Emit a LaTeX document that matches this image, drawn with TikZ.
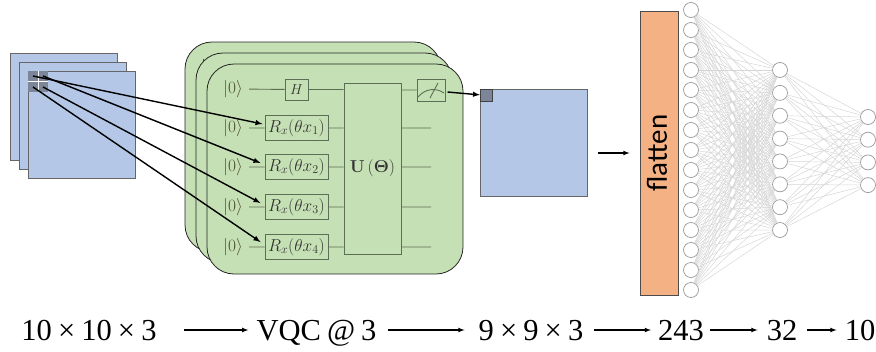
\documentclass[tikz,border=0pt]{standalone}
\usepackage{amssymb,amsmath,latexsym}
\usepackage[no-math]{fontspec}
\usepackage{tikz}
\usetikzlibrary{arrows}
\newfontfamily\captionfont[WordSpace=0.8]{Liberation Serif}
\newfontfamily\flattenfont{Carlito}
\definecolor{imgblue}{HTML}{B4C7E7}
\definecolor{qcgreen}{HTML}{C5E0B4}
\definecolor{wirecol}{HTML}{5E6E56}
\definecolor{kettext}{HTML}{4F4F30}
\definecolor{patchcol}{HTML}{7C8698}
\definecolor{flatcol}{HTML}{F4B183}
\tikzset{
  img/.style={draw=black!60, line width=1pt, fill=imgblue, inner sep=0, minimum size=107pt},
  card/.style={draw=black!85, line width=0.8pt, fill=qcgreen, rounded corners=27pt, inner sep=0, minimum width=256pt, minimum height=210pt},
  ket/.style={inner sep=0, minimum width=32pt, text=kettext, font=\LARGE},
  gate/.style={draw=wirecol, line width=1pt, inner sep=0, text=black!80, font=\LARGE},
  rxgate/.style={gate, minimum width=63pt, minimum height=25pt},
  wire/.style={draw=wirecol, line width=0.9pt},
  cell/.style={fill=patchcol, inner sep=0, minimum size=10.5pt},
  feed/.style={-latex, line width=1.4pt},
  neuron/.style={circle, draw=black!40, line width=0.7pt, fill=white, inner sep=0, minimum size=15pt},
  synapse/.style={draw=black!16, line width=0.5pt},
  caption/.style={inner sep=0, text height=22pt, text depth=2pt, font={\captionfont\fontsize{30.5}{33}\selectfont}}
}
\begin{document}
\begin{tikzpicture}[x=1pt, y=-1pt]
  \useasboundingbox (0,0) rectangle (876,351);

  % input channels
  \node[img] (img-3) at (64,107) {};
  \node[img] (img-2) at (73,116) {};
  \node[img] (img-1) at (82,125) {};
  \node[cell] (c-1) at (33,76) {};
  \node[cell] (c-2) at (43,76) {};
  \node[cell] (c-3) at (33,87) {};
  \node[cell] (c-4) at (43,87) {};
  \draw[white, line width=0.8pt] (c-1.north east) -- (c-3.south east);
  \draw[white, line width=0.8pt] (c-1.south west) -- (c-2.south east);

  % circuit cards
  \node[card] (card-3) at (313,147) {};
  \draw[draw=kettext, line width=0.8pt] (203,59) -- (203,67);
  \node[card] (card-2) at (324,158) {};
  \node[card] (card-1) at (335,169) {};

  \node[ket] (k-0) at (233,89) {$|0\rangle$};
  \node[ket] (k-1) at (233,128) {$|0\rangle$};
  \node[ket] (k-2) at (233,167) {$|0\rangle$};
  \node[ket] (k-3) at (233,207) {$|0\rangle$};
  \node[ket] (k-4) at (233,247) {$|0\rangle$};
  \node[gate, font=\Large, minimum width=23pt, minimum height=21pt] (h) at (296.5,89.5) {$H$};
  \node[rxgate] (rx-1) at (296.5,128) {$R_x(\theta x_1)$};
  \node[rxgate] (rx-2) at (296.5,167) {$R_x(\theta x_2)$};
  \node[rxgate] (rx-3) at (296.5,207) {$R_x(\theta x_3)$};
  \node[rxgate] (rx-4) at (296.5,247) {$R_x(\theta x_4)$};
  \node[gate, minimum width=57pt, minimum height=171pt] (u) at (372.5,168.5) {$\mathbf{U}\left(\boldsymbol{\Theta}\right)$};
  \node[gate, minimum width=28pt, minimum height=22pt] (meter) at (431,90) {};
  \draw[wire] (418,97) .. controls (425,89) and (435,87) .. (444,93);
  \draw[wire] (430,98) -- (438,83);

  \coordinate (out-1) at (431,128);
  \coordinate (out-2) at (431,167);
  \coordinate (out-3) at (431,207);
  \coordinate (out-4) at (431,247);
  \path[wire]
  (k-0) -- (h)
  (h) -- (h -| u.west)
  (meter.west) -- (meter.west -| u.east)
  (k-1) -- (rx-1) (rx-1) -- (rx-1 -| u.west) (out-1 -| u.east) -- (out-1)
  (k-2) -- (rx-2) (rx-2) -- (rx-2 -| u.west) (out-2 -| u.east) -- (out-2)
  (k-3) -- (rx-3) (rx-3) -- (rx-3 -| u.west) (out-3 -| u.east) -- (out-3)
  (k-4) -- (rx-4) (rx-4) -- (rx-4 -| u.west) (out-4 -| u.east) -- (out-4);

  % feature map and flatten
  \node[img] (map) at (534,142.5) {};
  \node[cell, draw=black!75, line width=0.8pt, anchor=north west, minimum size=12pt] (pix) at (map.north west) {};
  \node[draw=black!70, line width=1pt, fill=flatcol, inner sep=0, minimum width=38pt, minimum height=284pt] (flat) at (659,153) {};
  \node[rotate=90, inner sep=0, font={\flattenfont\fontsize{29}{32}\selectfont}] (flat-text) at (657,153) {flatten};
  \coordinate (flat-in) at (598,153);

  \path[feed]
  (c-1.center) edge ([shift={(-2pt,4pt)}]rx-1.west)
  (c-2.center) edge ([shift={(-4pt,4pt)}]rx-2.west)
  (c-4.center) edge ([shift={(-4pt,4pt)}]rx-3.west)
  (c-3.center) edge ([shift={(-4pt,5pt)}]rx-4.west)
  ([shift={(2pt,-2pt)}]meter.east) edge (pix.west)
  (flat-in) edge [line width=1.1pt, shorten >=10pt] (flat.west);

  % dense layers
  \foreach \i in {1,...,15} \node[neuron] (a-\i) at (691,{10+20*(\i-1)}) {};
  \foreach \i in {1,...,8} \node[neuron] (b-\i) at (780,{70+22.86*(\i-1)}) {};
  \foreach \i in {1,...,4} \node[neuron] (d-\i) at (868,{117+22.7*(\i-1)}) {};
  \foreach \i in {1,...,15} \foreach \j in {1,...,8} \draw[synapse] (a-\i) -- (b-\j);
  \foreach \i in {1,...,8} \foreach \j in {1,...,4} \draw[synapse] (b-\i) -- (d-\j);

  % shape summary
  \node[caption] (s-1) at (89,330) {10 × 10 × 3};
  \node[caption] (s-2) at (316.5,330) {VQC @ 3};
  \node[caption] (s-3) at (531,330) {9 × 9 × 3};
  \node[caption] (s-4) at (681,330) {243};
  \node[caption] (s-5) at (782,330) {32};
  \node[caption] (s-6) at (860,330) {10};
  \path[-latex, line width=1.1pt]
  (s-1) edge [shorten <=27pt, shorten >=8pt] (s-2)
  (s-2) edge [shorten <=11pt, shorten >=14pt] (s-3)
  (s-3) edge [shorten <=11pt, shorten >=7pt] (s-4)
  (s-4) edge [shorten <=6pt, shorten >=9pt] (s-5)
  (s-5) edge [shorten <=10pt, shorten >=8pt] (s-6);
\end{tikzpicture}
\end{document}
